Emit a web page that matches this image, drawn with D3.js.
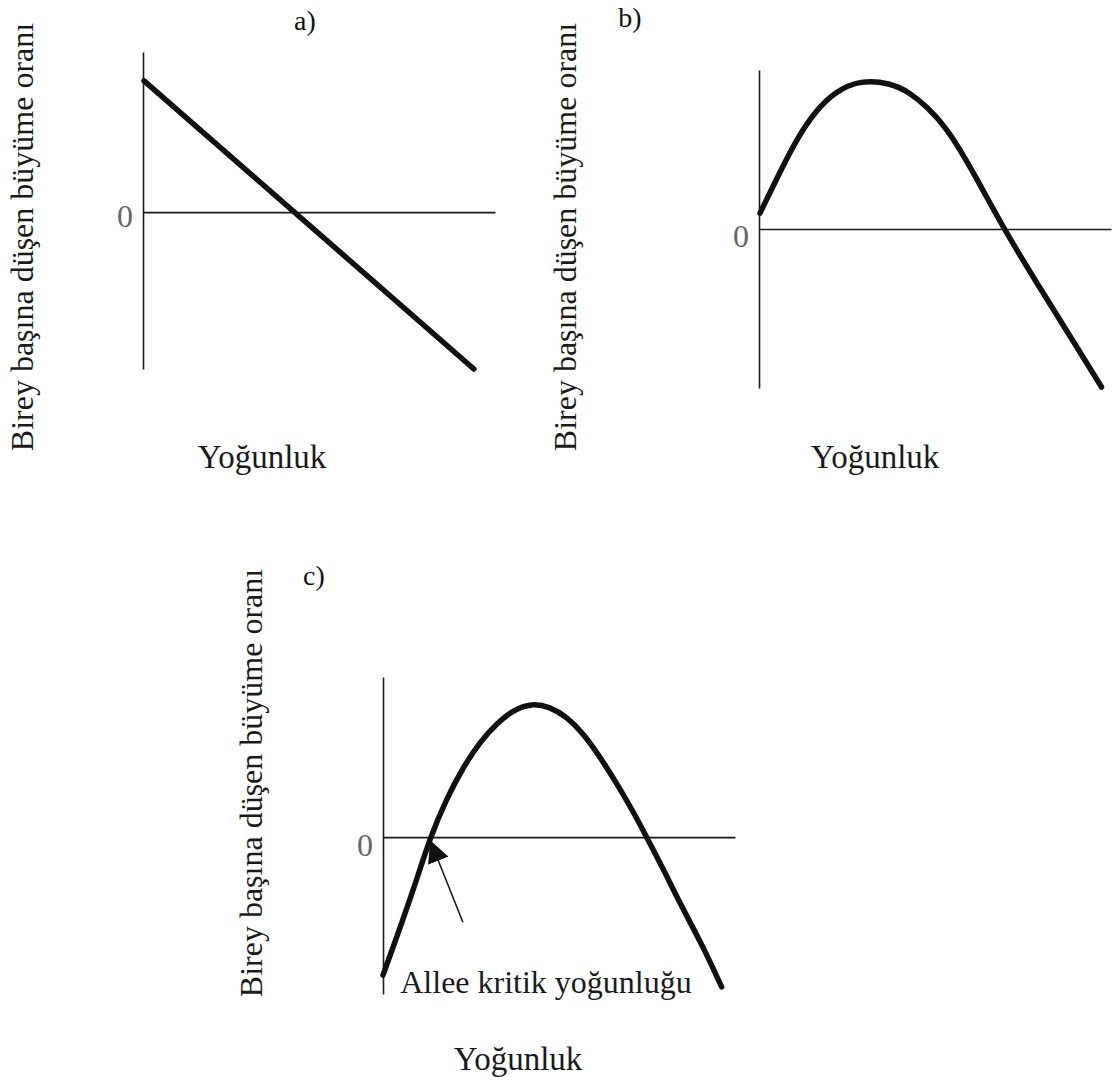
<!DOCTYPE html>
<html>
<head>
<meta charset="utf-8">
<script src="https://cdn.jsdelivr.net/npm/d3@7"></script>
<style>
  body { margin: 0; background: #fff; }
  svg { display: block; }
  text { font-family: "Liberation Serif", "Times New Roman", serif; }
</style>
</head>
<body>
<svg width="1118" height="1081"></svg>
<script>
////// Data (arbitrary units: density 0-10, growth -5..5)
var panelNames = ["a)", "b)", "c)"];
var yTitle = "Birey başına düşen büyüme oranı";
var xTitle = "Yoğunluk";
var zeroTick = [0];

// a) linear decline
var densityA = [0.03, 9.4];
var growthA = [4.1, -4.9];

// b) hump, positive at zero density
var densityB = [0.03, 0.58, 1.1, 1.63, 2.15, 2.89, 3.73, 4.26, 4.78, 5.3, 5.82, 6.35, 6.96, 7.92, 8.97, 9.73];
var growthB = [0.5, 1.76, 2.89, 3.74, 4.31, 4.69, 4.59, 4.31, 3.84, 3.21, 2.3, 1.25, 0, -1.75, -3.6, -4.97];

// c) Allee effect
var densityC = [0, 0.39, 0.86, 1.34, 1.81, 2.28, 2.76, 3.23, 3.7, 4.22, 4.74, 5.22, 5.69, 6.16, 6.64, 7.11, 7.49, 7.96, 8.44, 9.1, 9.62];
var growthC = [-4.31, -3.12, -1.66, 0, 1.21, 2.19, 2.98, 3.55, 3.97, 4.18, 4.07, 3.76, 3.24, 2.51, 1.68, 0.79, 0, -0.99, -2.08, -3.43, -4.68];

var alleeLabel = "Allee kritik yoğunluğu";
var alleeArrowFrom = [2.27, -2.66];
var alleeArrowTo = [1.34, -0.1];

var svg = d3.select("svg");

// arrow head for the Allee annotation
svg.append("defs").append("marker")
    .attr("id", "head")
    .attr("viewBox", "0 -11 22 22")
    .attr("refX", 22).attr("refY", 0)
    .attr("markerWidth", 22).attr("markerHeight", 22)
    .attr("markerUnits", "userSpaceOnUse")
    .attr("orient", "auto")
  .append("path")
    .attr("d", "M0,-11L22,0L0,11Z")
    .attr("fill", "#111");

// one panel = frame + zero line + curve + titles
var panels = [
  { name: panelNames[0], xs: densityA, ys: growthA, left: 143, right: 495, top: 52, bottom: 369, yMin: -4.9, yMax: 5,
    zeroDy: "0.46em", nameX: 305, nameY: 30, titleX: 33, titleY: 237, xtX: 262, xtY: 468, curve: d3.curveLinear },
  { name: panelNames[1], xs: densityB, ys: growthB, left: 759, right: 1111, top: 70, bottom: 388, yMin: -5, yMax: 5,
    zeroDy: "0.56em", nameX: 630, nameY: 27, titleX: 576, titleY: 237, xtX: 875, xtY: 468, curve: d3.curveBasis },
  { name: panelNames[2], xs: densityC, ys: growthC, left: 383, right: 735, top: 677, bottom: 994, yMin: -4.9, yMax: 5,
    zeroDy: "0.58em", nameX: 314, nameY: 585, titleX: 262, titleY: 783, xtX: 518, xtY: 1070, curve: d3.curveBasis }
];

panels.forEach(function (p, i) {
  var x = d3.scaleLinear().domain([0, 10]).range([p.left, p.right]),
      y = d3.scaleLinear().domain([p.yMin, p.yMax]).range([p.bottom, p.top]);

  var g = svg.append("g");

  // vertical axis with only the "0" label
  var yAxis = g.append("g")
      .attr("transform", "translate(" + p.left + ",0)")
      .call(d3.axisLeft(y).tickValues(zeroTick).tickSize(0).tickSizeOuter(0).tickPadding(10).tickFormat(d3.format("d")));
  yAxis.select(".domain").attr("stroke", "#1a1a1a").attr("stroke-width", 1.6);
  yAxis.selectAll("text")
      .attr("dy", p.zeroDy)
      .style("font-family", "'Liberation Serif', serif")
      .style("font-size", "32px")
      .attr("fill", "#666");

  // horizontal zero line
  var xAxis = g.append("g")
      .attr("transform", "translate(0," + y(0) + ")")
      .call(d3.axisBottom(x).tickValues([]).tickSizeOuter(0));
  xAxis.select(".domain").attr("stroke", "#1a1a1a").attr("stroke-width", 1.6);

  var data = p.xs.map(function (d, j) { return [d, p.ys[j]]; });
  var line = d3.line()
      .curve(p.curve)
      .x(function (d) { return x(d[0]); })
      .y(function (d) { return y(d[1]); });

  g.append("path")
      .datum(data)
      .attr("fill", "none")
      .attr("stroke", "#111")
      .attr("stroke-width", 5.5)
      .attr("stroke-linecap", "round")
      .attr("d", line);

  // panel letter
  g.append("text")
      .attr("x", p.nameX).attr("y", p.nameY)
      .attr("text-anchor", "middle")
      .style("font-size", "28px")
      .attr("fill", "#111")
      .text(p.name);

  // y title (rotated)
  g.append("text")
      .attr("transform", "translate(" + p.titleX + "," + p.titleY + ") rotate(-90)")
      .attr("text-anchor", "middle")
      .style("font-size", "32px")
      .attr("fill", "#1a1a1a")
      .text(yTitle);

  // x title
  g.append("text")
      .attr("x", p.xtX).attr("y", p.xtY)
      .attr("text-anchor", "middle")
      .style("font-size", "33px")
      .attr("fill", "#1a1a1a")
      .text(xTitle);

  // Allee annotation only on panel c
  if (i === 2) {
    g.append("line")
        .attr("x1", x(alleeArrowFrom[0])).attr("y1", y(alleeArrowFrom[1]))
        .attr("x2", x(alleeArrowTo[0])).attr("y2", y(alleeArrowTo[1]))
        .attr("stroke", "#111")
        .attr("stroke-width", 1.5)
        .attr("marker-end", "url(#head)");

    g.append("text")
        .attr("x", 546).attr("y", 993)
        .attr("text-anchor", "middle")
        .style("font-size", "32px")
        .attr("fill", "#1a1a1a")
        .text(alleeLabel);
  }
});
</script>
</body>
</html>
